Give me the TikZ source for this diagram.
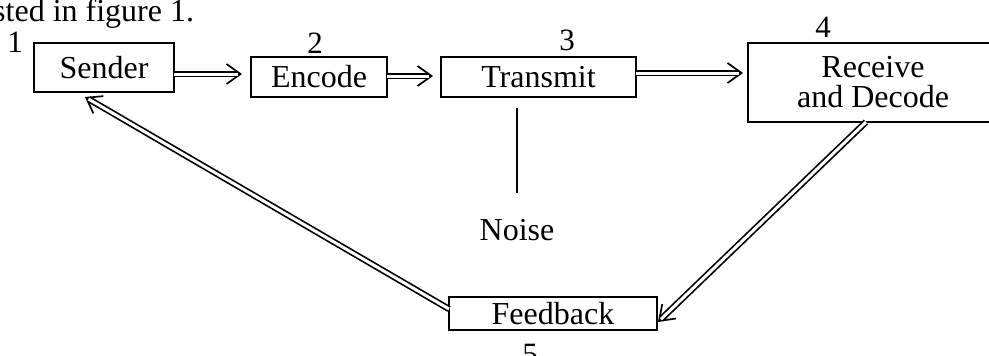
\documentclass[tikz,border=0pt]{standalone}
\usepackage{fontspec}
\setmainfont{Liberation Serif}
\usetikzlibrary{arrows.meta,calc}
\begin{document}
\begin{tikzpicture}[x=1pt,y=-1pt,
  box/.style={draw, line width=1.6pt, inner sep=0pt, font=\fontsize{32}{30}\selectfont},
  lbl/.style={font=\fontsize{31}{32}\selectfont, inner sep=0pt},
  txt/.style={font=\fontsize{32}{34}\selectfont, inner sep=0pt},
  dbl/.style={line width=1.7pt, double, double distance=3pt, shorten >=4pt},
  head/.style={line width=1.7pt, -{Straight Barb[length=14pt,width=20pt,line width=1.7pt]}}]
\useasboundingbox (0,0) rectangle (989,356);
\clip (0,0) rectangle (989,356);
% header
\node[txt, anchor=base west] (hdr) at (-7,21) {sted in figure 1.};
% boxes
\node[box, minimum width=140pt, minimum height=49pt] (sender) at (104,67.5) {Sender};
\node[box, minimum width=136pt, minimum height=40pt] (encode) at (319,77) {Encode};
\node[box, minimum width=195pt, minimum height=40pt] (transmit) at (538.5,77) {Transmit};
\node[box, minimum width=250pt, minimum height=79pt, align=center] (receive) at (873,82.5) {Receive\\and Decode};
\node[box, minimum width=208pt, minimum height=33pt] (feedback) at (553,313.5) {Feedback};
% number labels
\node[lbl] (n1) at (15,42) {1};
\node[lbl] (n2) at (315,43) {2};
\node[lbl] (n3) at (567,40) {3};
\node[lbl] (n4) at (823,27) {4};
\node[lbl] (n5) at (530,354) {5};
% noise
\node[txt] (noise) at (517,230) {Noise};
\coordinate (nz1) at (517,108);
\coordinate (nz2) at (517,193);
\draw[line width=1.6pt] (nz1) -- (nz2);
% arrow end points
\coordinate (s1) at (174,74);  \coordinate (t1) at (242,74);
\coordinate (s2) at (387,76);  \coordinate (t2) at (433,76);
\coordinate (s3) at (636,73);  \coordinate (t3) at (743,73);
\coordinate (s4) at (866,122); \coordinate (t4) at (658,322);
\coordinate (s5) at (449,309); \coordinate (t5) at (85,97);
\foreach \i in {1,...,5}{
  \draw[head] ($(t\i)!14pt!(s\i)$) -- (t\i);
  \draw[dbl] (s\i) -- (t\i);
}
\end{tikzpicture}
\end{document}
